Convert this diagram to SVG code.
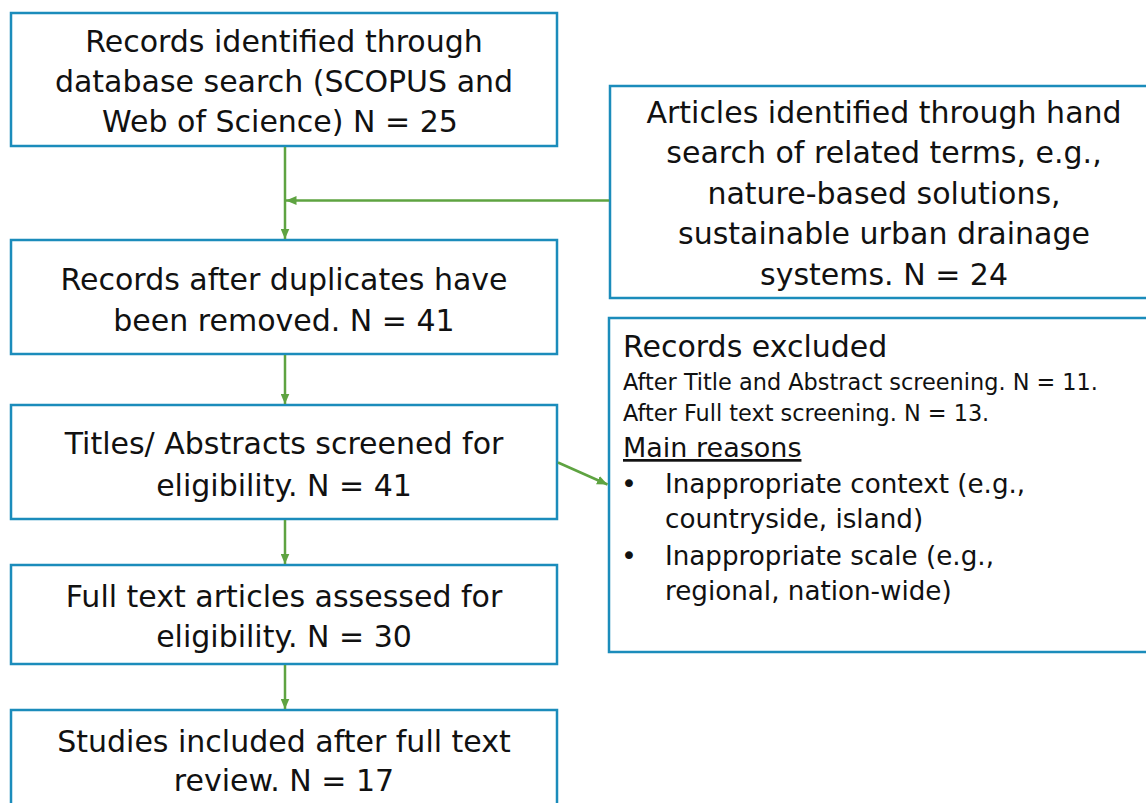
<svg xmlns="http://www.w3.org/2000/svg" width="1146" height="803" viewBox="0 0 1146 803">
<style>
.box{fill:#fff;stroke:#1b8cbb;stroke-width:2.5}
.t{font-family:"DejaVu Sans",sans-serif;font-size:30px;fill:#111;text-anchor:middle}
.l{font-family:"DejaVu Sans",sans-serif;fill:#111}
.c{fill:none;stroke:#5ea341;stroke-width:2.5}
</style>
<defs>
<marker id="ah" markerUnits="userSpaceOnUse" markerWidth="11" markerHeight="9" refX="10.5" refY="4.5" orient="auto">
<path d="M0,0 L10.5,4.5 L0,9 z" fill="#5ea341"/>
</marker>
</defs>
<rect width="1146" height="803" fill="#fff"/>
<g id="n1"><rect class="box" x="11" y="13" width="546" height="133"/>
<text class="t" x="284" y="52">Records identified through</text>
<text class="t" x="284" y="92">database search (SCOPUS and</text>
<text class="t" x="280" y="132">Web of Science) N = 25</text></g>
<g id="n2"><rect class="box" x="11" y="240" width="546" height="114"/>
<text class="t" x="284" y="290">Records after duplicates have</text>
<text class="t" x="284" y="331">been removed. N = 41</text></g>
<g id="n3"><rect class="box" x="11" y="405" width="546" height="114"/>
<text class="t" x="284" y="454">Titles/ Abstracts screened for</text>
<text class="t" x="284" y="496">eligibility. N = 41</text></g>
<g id="n4"><rect class="box" x="11" y="565" width="546" height="99"/>
<text class="t" x="284" y="607">Full text articles assessed for</text>
<text class="t" x="284" y="647">eligibility. N = 30</text></g>
<g id="n5"><rect class="box" x="11" y="710" width="546" height="110"/>
<text class="t" x="284" y="752">Studies included after full text</text>
<text class="t" x="284" y="791">review. N = 17</text></g>
<g id="n6"><rect class="box" x="610" y="86" width="545" height="212"/>
<text class="t" x="884" y="123">Articles identified through hand</text>
<text class="t" x="884" y="163">search of related terms, e.g.,</text>
<text class="t" x="884" y="204">nature-based solutions,</text>
<text class="t" x="884" y="244">sustainable urban drainage</text>
<text class="t" x="884" y="285">systems. N = 24</text></g>
<g id="n7"><rect class="box" x="609" y="318" width="546" height="334"/>
<text class="l" x="623" y="357" font-size="30">Records excluded</text>
<text class="l" x="623" y="390" font-size="22.4">After Title and Abstract screening. N = 11.</text>
<text class="l" x="623" y="421" font-size="22.4">After Full text screening. N = 13.</text>
<text class="l" x="623" y="457" font-size="27" text-decoration="underline">Main reasons</text>
<text class="l" x="621" y="493" font-size="27">•</text>
<text class="l" x="665" y="493" font-size="26.2">Inappropriate context (e.g.,</text>
<text class="l" x="665" y="528" font-size="26.2">countryside, island)</text>
<text class="l" x="621" y="565" font-size="27">•</text>
<text class="l" x="665" y="565" font-size="26.2">Inappropriate scale (e.g.,</text>
<text class="l" x="665" y="600" font-size="26.2">regional, nation-wide)</text></g>
<g id="connectors">
<line class="c" x1="285" y1="147" x2="285" y2="239" marker-end="url(#ah)"/>
<line class="c" x1="609" y1="200.5" x2="286" y2="200.5" marker-end="url(#ah)"/>
<line class="c" x1="285" y1="355" x2="285" y2="404" marker-end="url(#ah)"/>
<line class="c" x1="285" y1="520" x2="285" y2="564" marker-end="url(#ah)"/>
<line class="c" x1="285" y1="665" x2="285" y2="709" marker-end="url(#ah)"/>
<line class="c" x1="558" y1="462.5" x2="607.5" y2="484.5" marker-end="url(#ah)"/>
</g>
</svg>
